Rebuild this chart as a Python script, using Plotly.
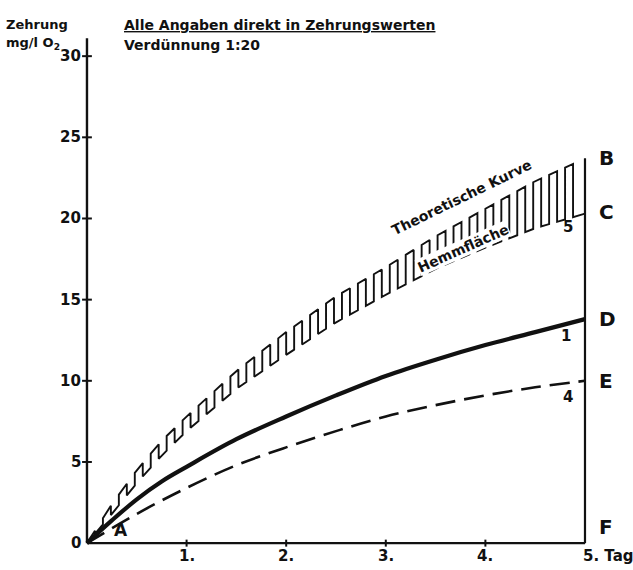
import numpy as np
import plotly.graph_objects as go

# ---------------- data ----------------
days = [0, 0.25, 0.5, 0.75, 1, 1.5, 2, 2.5, 3, 3.5, 4, 4.5, 5]
theoretical = [0, 2.4, 4.5, 6.3, 7.8, 10.6, 13.0, 15.2, 17.0, 18.9, 20.6, 22.3, 23.7]   # B
curve5 = [0, 1.8, 3.7, 5.4, 6.9, 9.5, 11.6, 13.6, 15.3, 16.9, 18.2, 19.4, 20.3]          # C
curve1 = [0, 1.4, 2.7, 3.8, 4.7, 6.4, 7.8, 9.1, 10.3, 11.3, 12.2, 13.0, 13.8]            # D
days4 = [0, 0.5, 1, 1.5, 2, 2.5, 3, 3.5, 4, 4.5, 5]
curve4 = [0, 1.8, 3.4, 4.8, 5.9, 6.9, 7.8, 8.5, 9.1, 9.6, 10.0]                          # E

x_ticks = [1, 2, 3, 4]
x_ticktext = ["1.", "2.", "3.", "4."]
y_ticks = [0, 5, 10, 15, 20, 25, 30]
end_labels = ["B", "C", "D", "E", "F"]
end_values = [23.7, 20.4, 13.8, 10.0, 1.0]

# ---------------- geometry ----------------
W, H = 633, 570
L_M, B_M, T_M, R_M = 82, 22, 0, 0
X0, X1 = -0.05, 5.482
Y0, Y1 = -0.3, 33.46
PH = H - T_M - B_M


def py(p):
    return (H - B_M - p) / PH


FONT = "DejaVu Sans"
black = "#111"

fig = go.Figure()

# hatched inhibition band (square wave between theoretical curve and curve 5)
grid = np.arange(0, 5.0001, 0.08)
grid = np.append(grid[grid < 4.96], 5.0)
hx, hy = [], []
for i, g in enumerate(grid):
    lo = float(np.interp(g, days, curve5))
    hi = float(np.interp(g, days, theoretical))
    if i % 2 == 0:
        hx += [g, g]; hy += [lo, hi]
    else:
        hx += [g, g]; hy += [hi, lo]
fig.add_trace(go.Scatter(x=hx, y=hy, mode="lines",
                         line=dict(color=black, width=1.9), hoverinfo="skip"))

# curve 1 (solid thick)
fig.add_trace(go.Scatter(x=days, y=curve1, mode="lines", line_shape="spline",
                         line=dict(color=black, width=4.2)))
# curve 4 (dashed)
fig.add_trace(go.Scatter(x=days4, y=curve4, mode="lines", line_shape="spline",
                         line=dict(color=black, width=2.6, dash="20px,9px")))

# axes lines
fig.add_trace(go.Scatter(x=[0, 0], y=[0, 31.1], mode="lines", line=dict(color=black, width=2.4)))
fig.add_trace(go.Scatter(x=[0, 5], y=[0, 0], mode="lines", line=dict(color=black, width=2.4)))
fig.add_trace(go.Scatter(x=[5, 5], y=[0, theoretical[-1]], mode="lines", line=dict(color=black, width=2.2)))

# tick marks
fig.add_trace(go.Scatter(x=[0] * len(y_ticks[1:]), y=y_ticks[1:], mode="markers",
                         marker=dict(symbol="line-ew", size=7, line=dict(color=black, width=2))))
fig.add_trace(go.Scatter(x=x_ticks, y=[0] * len(x_ticks), mode="markers",
                         marker=dict(symbol="line-ns", size=5, line=dict(color=black, width=2))))

fnt = dict(family=FONT, size=15, color=black, weight="bold")
small = dict(family=FONT, size=13, color=black, weight="bold")
title_fnt = dict(family=FONT, size=14, color=black, weight="bold")

for v in y_ticks:
    fig.add_annotation(x=0, y=v, text=str(v), showarrow=False, xanchor="right",
                       xshift=-4, font=fnt)
for v, t in zip(x_ticks, x_ticktext):
    fig.add_annotation(x=v, y=0, text=t, showarrow=False, yanchor="top", yshift=-2, font=fnt)
fig.add_annotation(x=5, y=0, text="5. Tag", showarrow=False, yanchor="top", xanchor="left",
                   xshift=-4, yshift=-2, font=fnt)

big = dict(family=FONT, size=20, color=black, weight="bold")
for lab, v in zip(end_labels, end_values):
    fig.add_annotation(x=5, y=v, text=lab, showarrow=False, xanchor="left", xshift=12, font=big)

# curve numbers
fig.add_annotation(x=4.83, y=19.5, text="5", showarrow=False, font=fnt)
fig.add_annotation(x=4.81, y=12.75, text="1", showarrow=False, font=fnt)
fig.add_annotation(x=4.83, y=9.0, text="4", showarrow=False, font=fnt)
fig.add_annotation(x=0.34, y=0.8, text="A", showarrow=False,
                   font=dict(family=FONT, size=17, color=black, weight="bold"))

# rotated labels
fig.add_annotation(x=3.77, y=21.3, text="Theoretische Kurve", showarrow=False, textangle=-26,
                   font=dict(family=FONT, size=14, color=black, weight="bold"))
fig.add_annotation(x=3.78, y=18.2, text="Hemmfläche", showarrow=False, textangle=-24,
                   bgcolor="white", borderpad=0,
                   font=dict(family=FONT, size=14, color=black, weight="bold"))

# titles
fig.add_annotation(xref="paper", yref="paper", x=-(L_M - 4) / (W - L_M - R_M), y=py(15),
                   text="Zehrung", showarrow=False, xanchor="left", font=small)
fig.add_annotation(xref="paper", yref="paper", x=-(L_M - 4) / (W - L_M - R_M), y=py(33),
                   text="mg/l O<sub>2</sub>", showarrow=False, xanchor="left", font=small)
fig.add_annotation(xref="paper", yref="paper", x=(122 - L_M) / (W - L_M - R_M), y=py(15),
                   text="<u>Alle Angaben direkt in Zehrungswerten</u>", showarrow=False,
                   xanchor="left", font=title_fnt)
fig.add_annotation(xref="paper", yref="paper", x=(122 - L_M) / (W - L_M - R_M), y=py(35),
                   text="Verdünnung 1:20", showarrow=False, xanchor="left", font=title_fnt)

fig.update_layout(
    width=W, height=H, showlegend=False,
    margin=dict(l=L_M, r=R_M, t=T_M, b=B_M, pad=0),
    plot_bgcolor="white", paper_bgcolor="white",
    xaxis=dict(range=[X0, X1], visible=False, fixedrange=True),
    yaxis=dict(range=[Y0, Y1], visible=False, fixedrange=True),
)

fig.write_html("out.html")
